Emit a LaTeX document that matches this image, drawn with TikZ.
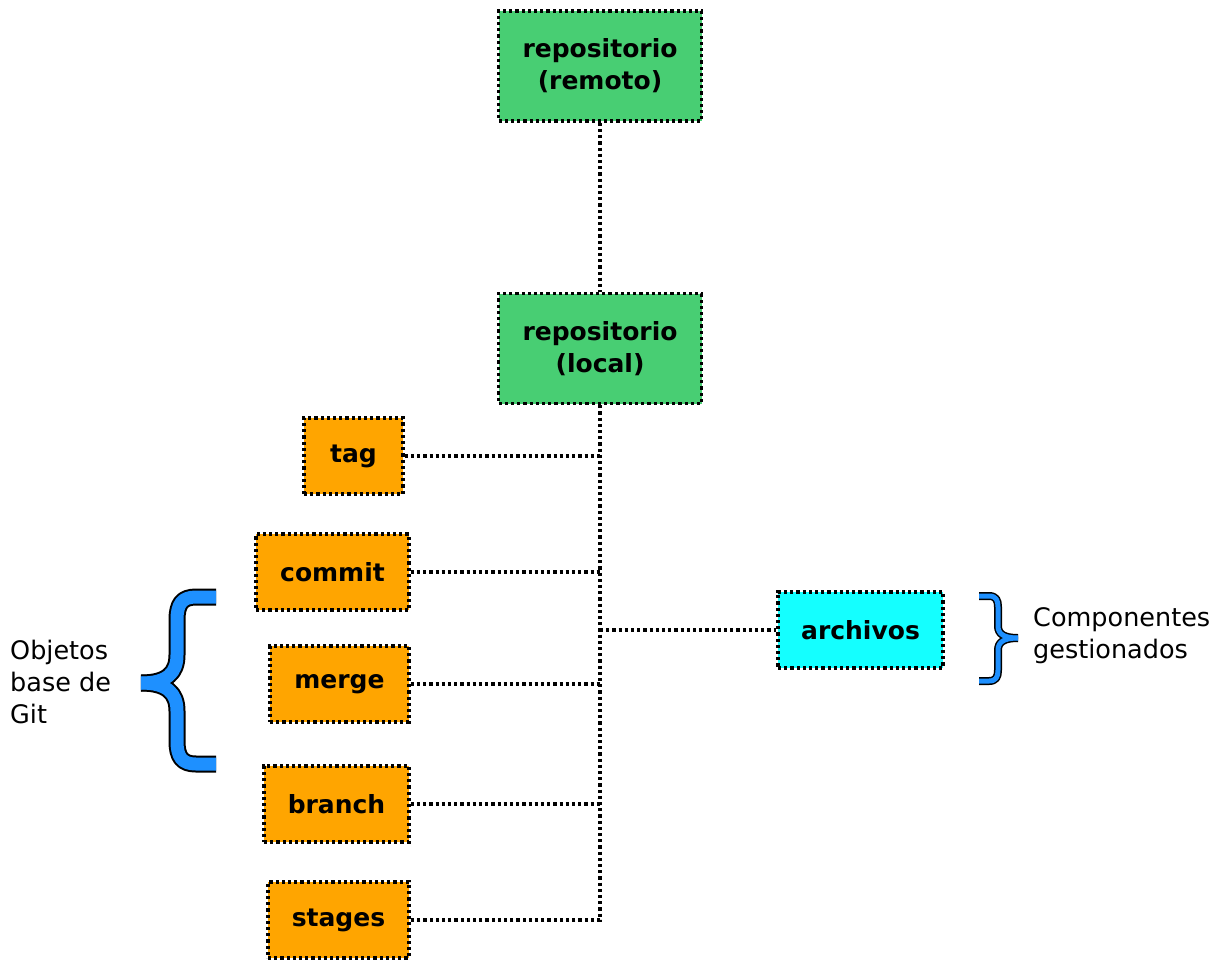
\documentclass[tikz,border=0pt]{standalone}
\usepackage{fontspec}
\setmainfont{DejaVu Sans}
\definecolor{repogreen}{RGB}{72,206,115}
\definecolor{objorange}{RGB}{255,165,0}
\definecolor{filecyan}{RGB}{20,255,255}
\definecolor{braceblue}{RGB}{30,144,255}
\tikzset{
  dotline/.style={line width=3.4pt, dash pattern=on 3.2pt off 3pt},
  box/.style={rectangle, draw=black, dotline, inner sep=0pt,
    font=\fontsize{25}{32}\selectfont\bfseries, align=center},
  repo/.style={box, fill=repogreen, minimum width=203pt, minimum height=110pt},
  obj/.style={box, fill=objorange, minimum height=76pt},
  comp/.style={box, fill=filecyan, minimum height=76pt, minimum width=165pt},
  link/.style={draw=black, dotline},
  note/.style={font=\fontsize{25.5}{32}\selectfont, align=left, anchor=west, inner sep=0pt},
  braceedge/.style={draw=black, line cap=butt, line join=round},
  bracefill/.style={draw=braceblue, line cap=butt, line join=round},
}
\begin{document}
\begin{tikzpicture}[x=1pt, y=-1pt]
\useasboundingbox (0,0) rectangle (1222,959);

% repositories
\node[repo] (remoto) at (600,66) {repositorio\\(remoto)};
\node[repo] (local) at (600,348.5) {repositorio\\(local)};

% Git base objects
\node[obj, minimum width=99pt]  (tag)    at (353.5,456) {tag};
\node[obj, minimum width=153pt] (commit) at (332.5,572) {commit};
\node[obj, minimum width=139pt] (merge)  at (339.5,684) {merge};
\node[obj, minimum width=145pt] (branch) at (336.5,804) {branch};
\node[obj, minimum width=141pt] (stages) at (338.5,920) {stages};

% managed components
\node[comp] (archivos) at (860.5,630) {archivos};

% connectors
\coordinate (trunkend) at (local.south |- stages.east);
\draw[link] (remoto.south) -- (local.north);
\draw[link] (local.south) -- (trunkend) -- (stages.east);
\draw[link] (tag.east) -- (tag.east -| local.south);
\draw[link] (commit.east) -- (commit.east -| local.south);
\draw[link] (merge.east) -- (merge.east -| local.south);
\draw[link] (branch.east) -- (branch.east -| local.south);
\draw[link] (archivos.west -| local.south) -- (archivos.west);

% left brace
\foreach \sty/\w in {braceedge/17pt, bracefill/13pt}{
  \draw[\sty, line width=\w]
    (216,597) -- (196,597) .. controls (182,597) and (177,604) .. (177,620)
    -- (177,655) .. controls (177,673) and (167,683) .. (141,683);
  \draw[\sty, line width=\w]
    (216,764) -- (196,764) .. controls (182,764) and (177,757) .. (177,741)
    -- (177,711) .. controls (177,693) and (167,683) .. (141,683);
}
\node[note] (objetos) at (10,682) {Objetos\\base de\\Git};

% right brace
\foreach \sty/\w in {braceedge/8pt, bracefill/5pt}{
  \draw[\sty, line width=\w]
    (979,596) -- (989,596) .. controls (996,596) and (998,600) .. (998,607)
    -- (998,626) .. controls (998,634) and (1004,638) .. (1018,638);
  \draw[\sty, line width=\w]
    (979,681) -- (989,681) .. controls (996,681) and (998,677) .. (998,670)
    -- (998,650) .. controls (998,642) and (1004,638) .. (1018,638);
}
\node[note] (componentes) at (1033,636) {Componentes\\gestionados};
\end{tikzpicture}
\end{document}
